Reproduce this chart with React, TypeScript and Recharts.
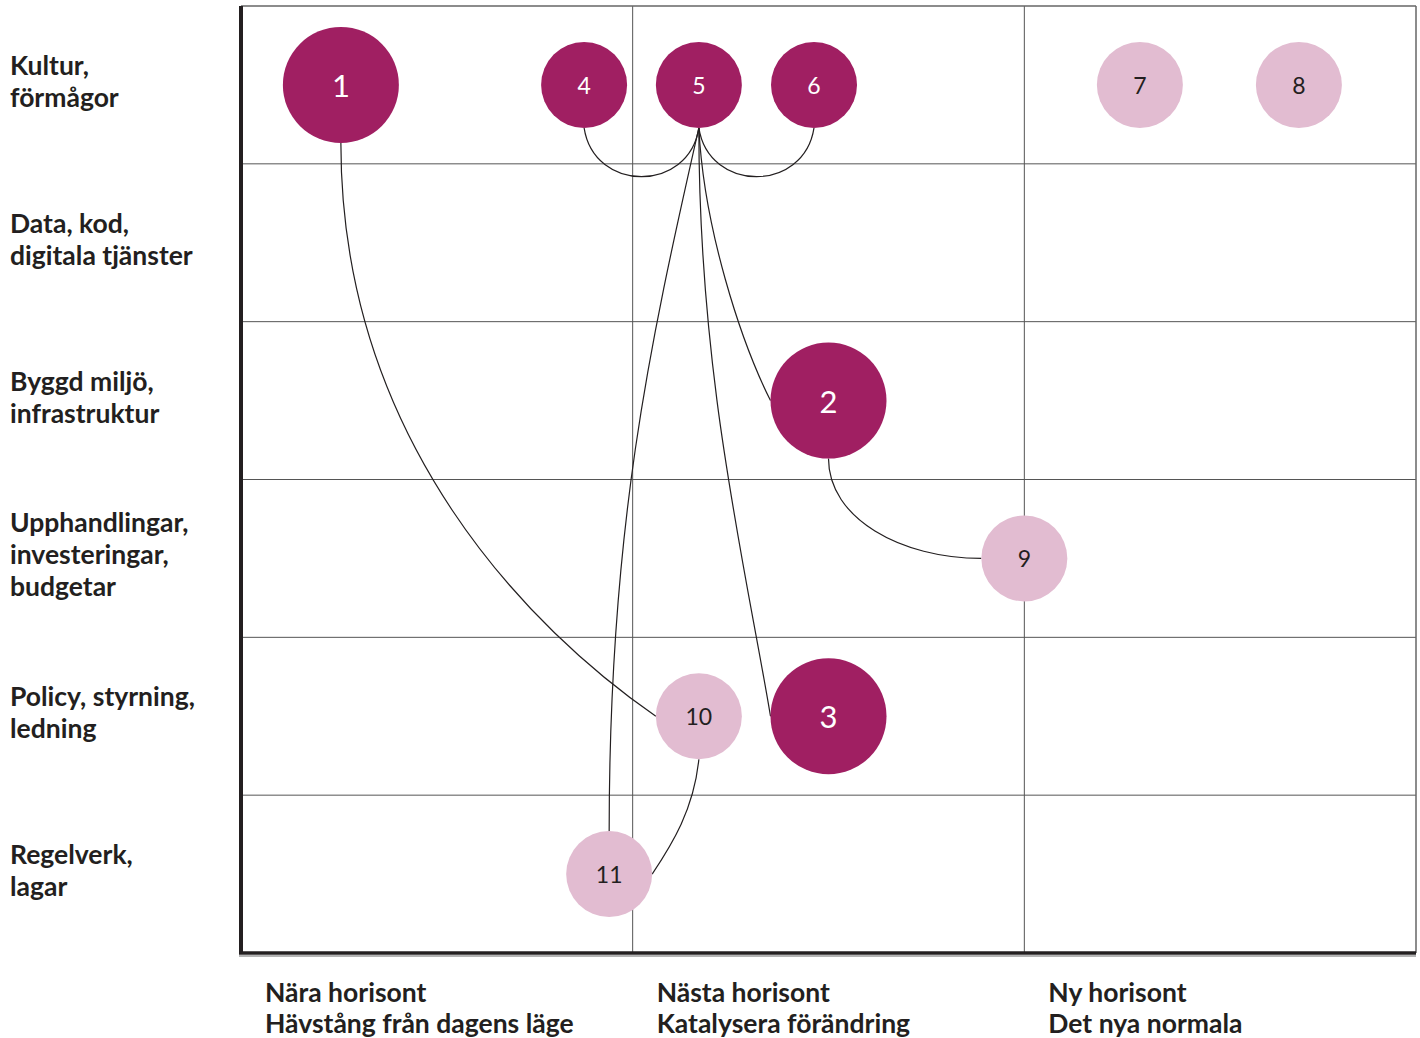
import React from 'react';
import { ScatterChart, Scatter, XAxis, YAxis, ReferenceLine } from 'recharts';

// ---- data ----
const bubbleIds = ['1', '2', '3', '4', '5', '6', '7', '8', '9', '10', '11'];
const bubbleX = [0.255, 1.5, 1.5, 0.876, 1.169, 1.463, 2.295, 2.701, 2.0, 1.169, 0.94];
const bubbleRow = [0, 2, 4, 0, 0, 0, 0, 0, 3, 4, 5];
const bubbleMajor = [true, true, true, false, false, false, false, false, false, false, false];
const bubbleDark = [true, true, true, true, true, true, false, false, false, false, false];

const rowLabels = [
  'Kultur,\nförmågor',
  'Data, kod,\ndigitala tjänster',
  'Byggd miljö,\ninfrastruktur',
  'Upphandlingar,\ninvesteringar,\nbudgetar',
  'Policy, styrning,\nledning',
  'Regelverk,\nlagar',
];
const columnLabels = [
  'Nära horisont\nHävstång från dagens läge',
  'Nästa horisont\nKatalysera förändring',
  'Ny horisont\nDet nya normala',
];
const columnStarts = [0, 1, 2];
const rowCenters = [0.5, 1.5, 2.5, 3.5, 4.5, 5.5];
const gridX = [1, 2];
const gridY = [1, 2, 3, 4, 5];

const linkFrom = ['4', '5', '1', '5', '5', '5', '2', '10'];
const linkTo = ['5', '6', '10', '2', '3', '11', '9', '11'];

// ---- styles ----
const linkStyle = [
  { s: 'bottom', e: 'bottom', c1: [10, 65], c2: [-10, 65] },
  { s: 'bottom', e: 'bottom', c1: [10, 65], c2: [-10, 65] },
  { s: 'bottom', e: 'left', c1: [0, 300], c2: [-123, -85] },
  { s: 'bottom', e: 'left', c1: [5, 100], c2: [-30, -60] },
  { s: 'bottom', e: 'left', c1: [0, 250], c2: [-25, -150] },
  { s: 'bottom', e: 'top', c1: [-50, 220], c2: [0, -300] },
  { s: 'bottom', e: 'left', c1: [0, 60], c2: [-80, 0] },
  { s: 'bottom', e: 'right', c1: [-5, 50], c2: [20, -30] },
];

const DARK = '#A01F62';
const LIGHT = '#E2BCD1';
const INK = '#231F20';
const FONT = 'Lato, "Open Sans", sans-serif';
const LABEL_SIZE = 26.5;
const R_MAJOR = 58;
const R_MINOR = 43;

const bubbles = bubbleIds.map((id, i) => ({
  id,
  x: bubbleX[i],
  y: bubbleRow[i] + 0.5,
  major: bubbleMajor[i],
  dark: bubbleDark[i],
}));
const byId: Record<string, any> = {};
bubbles.forEach((b) => (byId[b.id] = b));

const offset = (side: string, r: number) => {
  if (side === 'bottom') return [0, r];
  if (side === 'top') return [0, -r];
  if (side === 'left') return [-r, 0];
  return [r, 0];
};

const makeLinkRenderer = (i: number) => (props: any) => {
  const pts = props.points || [];
  if (pts.length < 2) return <g />;
  const st = linkStyle[i];
  const a = byId[linkFrom[i]];
  const b = byId[linkTo[i]];
  const oa = offset(st.s, a.major ? R_MAJOR : R_MINOR);
  const ob = offset(st.e, b.major ? R_MAJOR : R_MINOR);
  const ax = pts[0].x + oa[0];
  const ay = pts[0].y + oa[1];
  const bx = pts[1].x + ob[0];
  const by = pts[1].y + ob[1];
  const d = `M${ax},${ay} C${ax + st.c1[0]},${ay + st.c1[1]} ${bx + st.c2[0]},${by + st.c2[1]} ${bx},${by}`;
  return <path d={d} fill="none" stroke={INK} strokeWidth={1.2} />;
};

const BubbleShape = (props: any) => {
  const { cx, cy, payload } = props;
  if (cx == null || cy == null) return <g />;
  const r = payload.major ? R_MAJOR : R_MINOR;
  return (
    <g>
      <circle cx={cx} cy={cy} r={r} fill={payload.dark ? DARK : LIGHT} />
      <text
        x={cx}
        y={cy}
        textAnchor="middle"
        dominantBaseline="central"
        fontFamily={FONT}
        fontSize={payload.major ? 31 : 23}
        fill={payload.dark ? '#FFFFFF' : INK}
      >
        {payload.id}
      </text>
    </g>
  );
};

const RowTick = (props: any) => {
  const { y, payload } = props;
  const idx = rowCenters.indexOf(payload.value);
  if (idx < 0) return <g />;
  const lines = rowLabels[idx].split('\n');
  const lh = 32;
  const start = y + 6 - ((lines.length - 1) * lh) / 2;
  return (
    <g>
      {lines.map((ln, k) => (
        <text
          key={k}
          x={10}
          y={start + k * lh}
          textAnchor="start"
          fontFamily={FONT}
          fontWeight={700}
          fontSize={LABEL_SIZE}
          fill={INK}
        >
          {ln}
        </text>
      ))}
    </g>
  );
};

const ColTick = (props: any) => {
  const { x, y, payload } = props;
  const idx = columnStarts.indexOf(payload.value);
  if (idx < 0) return <g />;
  const lines = columnLabels[idx].split('\n');
  return (
    <g>
      {lines.map((ln, k) => (
        <text
          key={k}
          x={x + 24}
          y={y + 49 + k * 31}
          textAnchor="start"
          fontFamily={FONT}
          fontWeight={700}
          fontSize={LABEL_SIZE}
          fill={INK}
        >
          {ln}
        </text>
      ))}
    </g>
  );
};

const BottomAxisShape = (props: any) => {
  const { x1, y1, x2, y2 } = props;
  return (
    <g>
      <line x1={x1 - 2} y1={y1 + 3} x2={x2} y2={y2 + 3} stroke="#9a9a9a" strokeWidth={1.5} />
      <line x1={x1 - 2} y1={y1} x2={x2} y2={y2} stroke={INK} strokeWidth={3.5} />
    </g>
  );
};

export default function App() {
  return (
    <div style={{ position: 'absolute', left: 0, top: 0, background: '#fff' }}>
      <ScatterChart width={1420} height={1038} margin={{ top: 6, right: 4, bottom: 0, left: 0 }}>
        <XAxis
          type="number"
          dataKey="x"
          domain={[0, 3]}
          ticks={columnStarts}
          interval={0}
          axisLine={false}
          tickLine={false}
          tickSize={0}
          tickMargin={0}
          height={85}
          tick={<ColTick />}
          allowDataOverflow
        />
        <YAxis
          type="number"
          dataKey="y"
          domain={[0, 6]}
          reversed
          ticks={rowCenters}
          interval={0}
          axisLine={false}
          tickLine={false}
          width={241}
          tick={<RowTick />}
          allowDataOverflow
        />
        {linkFrom.map((f, i) => (
          <Scatter
            key={'l' + i}
            data={[
              { x: byId[f].x, y: byId[f].y },
              { x: byId[linkTo[i]].x, y: byId[linkTo[i]].y },
            ]}
            line={makeLinkRenderer(i)}
            shape={() => <g />}
            isAnimationActive={false}
            legendType="none"
          />
        ))}
        <Scatter data={bubbles} shape={<BubbleShape />} isAnimationActive={false} />
        {gridX.map((v) => (
          <ReferenceLine key={'gx' + v} x={v} stroke="#555" strokeWidth={1} />
        ))}
        {gridY.map((v) => (
          <ReferenceLine key={'gy' + v} y={v} stroke="#555" strokeWidth={1} />
        ))}
        <ReferenceLine y={0} stroke="#666" strokeWidth={1.5} />
        <ReferenceLine x={3} stroke="#666" strokeWidth={1.5} />
        <ReferenceLine x={0} stroke={INK} strokeWidth={4} />
        <ReferenceLine y={6} shape={<BottomAxisShape />} />
      </ScatterChart>
    </div>
  );
}
